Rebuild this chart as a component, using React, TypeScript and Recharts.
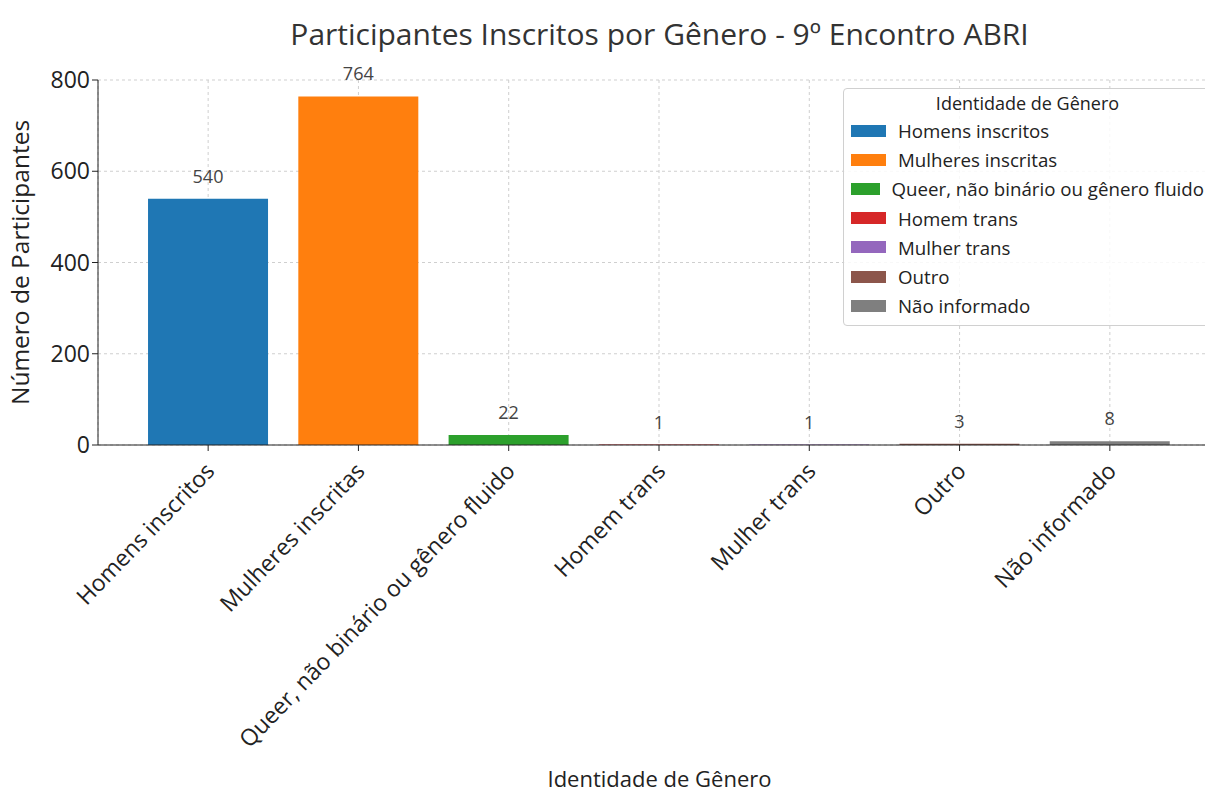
import React from 'react';
import { BarChart, Bar, XAxis, YAxis, CartesianGrid, Cell, LabelList, Legend, Label } from 'recharts';

const categories = [
  'Homens inscritos',
  'Mulheres inscritas',
  'Queer, não binário ou gênero fluido',
  'Homem trans',
  'Mulher trans',
  'Outro',
  'Não informado',
];
const counts = [540, 764, 22, 1, 1, 3, 8];
const colors = ['#1f77b4', '#ff7f0e', '#2ca02c', '#d62728', '#9467bd', '#8c564b', '#7f7f7f'];
const yTicks = [0, 200, 400, 600, 800];

const data = categories.map((c, i) => ({ name: c, value: counts[i] }));

const FONT = '"Open Sans", sans-serif';

const LegendBox = () => (
  <div
    style={{
      border: '1px solid #d0d0d0',
      borderRadius: 4,
      background: 'rgba(255,255,255,0.85)',
      padding: '2px 10px 5px 7px',
      fontFamily: FONT,
      color: '#222',
      width: 372,
      boxSizing: 'border-box',
    }}
  >
    <div style={{ textAlign: 'center', fontSize: 18, lineHeight: '25px', marginBottom: 0 }}>Identidade de Gênero</div>
    {categories.map((c, i) => (
      <div key={c} style={{ display: 'flex', alignItems: 'center', height: 29.2 }}>
        <span style={{ display: 'inline-block', width: 35, height: 12, background: colors[i], marginRight: 12 }} />
        <span style={{ fontSize: 18.7, whiteSpace: 'nowrap' }}>{c}</span>
      </div>
    ))}
  </div>
);

export default function App() {
  return (
    <div style={{ position: 'relative', margin: -8, width: 1213, height: 796, overflow: 'hidden', background: '#fff' }}>
      <div
        style={{
          position: 'absolute',
          left: 98,
          width: 1123,
          top: 13,
          textAlign: 'center',
          fontFamily: FONT,
          fontSize: 30,
          lineHeight: '42px',
          color: '#333',
        }}
      >
        Participantes Inscritos por Gênero - 9º Encontro ABRI
      </div>
      <BarChart
        width={1240}
        height={796}
        data={data}
        margin={{ top: 80, right: 19, bottom: 0, left: 0 }}
        barCategoryGap="10%"
      >
        <CartesianGrid stroke="#cfcfcf" strokeDasharray="3 3" />
        <XAxis
          dataKey="name"
          interval={0}
          height={351}
          padding={{ left: 35, right: 36 }}
          stroke="#222"
          tickLine={{ stroke: '#222' }}
          tickSize={6}
          tick={{ fontFamily: FONT, fontSize: 23, fill: '#222', angle: -46, textAnchor: 'end', dy: 8, dx: -4 } as any}
        >
          <Label
            value="Identidade de Gênero"
            position="insideBottom"
            offset={9}
            style={{ fontFamily: FONT, fontSize: 22, fill: '#222' }}
          />
        </XAxis>
        <YAxis
          width={98}
          domain={[0, 800]}
          ticks={yTicks}
          stroke="#222"
          tickSize={6}
          tick={{ fontFamily: FONT, fontSize: 23, fill: '#222' }}
        >
          <Label
            value="Número de Participantes"
            angle={-90}
            position="insideLeft"
            offset={20}
            style={{ fontFamily: FONT, fontSize: 24.5, fill: '#222', textAnchor: 'middle' }}
          />
        </YAxis>
        <Legend
          layout="vertical"
          align="center"
          verticalAlign="middle"
          wrapperStyle={{ left: 843, top: 88, width: 380 }}
          content={() => <LegendBox />}
        />
        <Bar dataKey="value" isAnimationActive={false}>
          {data.map((d, i) => (
            <Cell key={d.name} fill={colors[i]} />
          ))}
          <LabelList
            dataKey="value"
            position="top"
            offset={16}
            style={{ fontFamily: FONT, fontSize: 18, fill: '#444' }}
          />
        </Bar>
      </BarChart>
    </div>
  );
}
